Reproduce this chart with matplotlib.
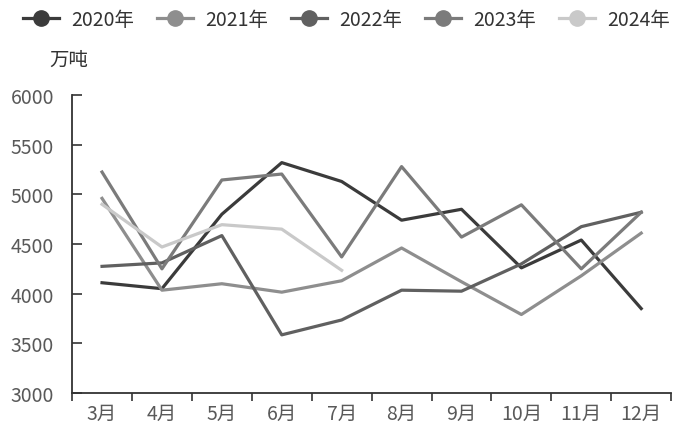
import numpy as np
import matplotlib.pyplot as plt

plt.rcParams['font.family'] = ['Noto Sans CJK SC', 'DejaVu Sans']

months = ['3月', '4月', '5月', '6月', '7月', '8月', '9月', '10月', '11月', '12月']
y2020 = [4110, 4050, 4800, 5320, 5130, 4740, 4850, 4260, 4540, 3850]
y2021 = [4960, 4035, 4100, 4015, 4130, 4460, 4120, 3790, 4180, 4610]
y2022 = [4275, 4310, 4585, 3585, 3735, 4035, 4025, 4300, 4675, 4820]
y2023 = [5225, 4250, 5145, 5205, 4370, 5280, 4570, 4895, 4250, 4820]
y2024 = [4900, 4470, 4695, 4650, 4235]

series = [('2020年', y2020, '#3b3b3b'),
          ('2021年', y2021, '#8e8e8e'),
          ('2022年', y2022, '#606060'),
          ('2023年', y2023, '#7b7b7b'),
          ('2024年', y2024, '#c9c9c9')]

fig = plt.figure(figsize=(6.8, 4.31), dpi=100)
ax = fig.add_axes([0.106, 0.086, 0.881, 0.691])

x = np.arange(len(months))
for name, vals, col in series:
    ax.plot(x[:len(vals)], vals, color=col, lw=2.3, label=name)

ax.set_xlim(-0.5, len(months) - 0.5)
ax.set_ylim(3000, 6000)
ax.set_yticks(np.arange(3000, 6001, 500))
ax.set_xticks(x)
ax.set_xticklabels(months)
ax.set_xticks(np.arange(-0.5, len(months), 1), minor=True)
ax.tick_params(axis='x', which='major', length=0, pad=7, labelsize=14, labelcolor='#595959')
ax.tick_params(axis='x', which='minor', length=6, width=1.2, direction='out', color='#333333')
ax.tick_params(axis='y', length=7, width=1.2, direction='in', pad=13, labelsize=14,
               labelcolor='#595959', color='#333333')
for s in ['top', 'right']:
    ax.spines[s].set_visible(False)
for s in ['left', 'bottom']:
    ax.spines[s].set_color('#333333')
    ax.spines[s].set_linewidth(1.3)

fig.text(0.073, 0.861, '万吨', fontsize=14, color='#333333', ha='left', va='center')

handles = [plt.Line2D([], [], color=c, lw=2.3, marker='o', markersize=11) for _, _, c in series]
fig.legend(handles, [n for n, _, _ in series], loc='center left', bbox_to_anchor=(0.008, 0.952),
           ncol=5, frameon=False, fontsize=14, handlelength=1.85, handletextpad=0.65,
           columnspacing=1.15, labelcolor='#333333')

fig.savefig('out.png', dpi=100)
